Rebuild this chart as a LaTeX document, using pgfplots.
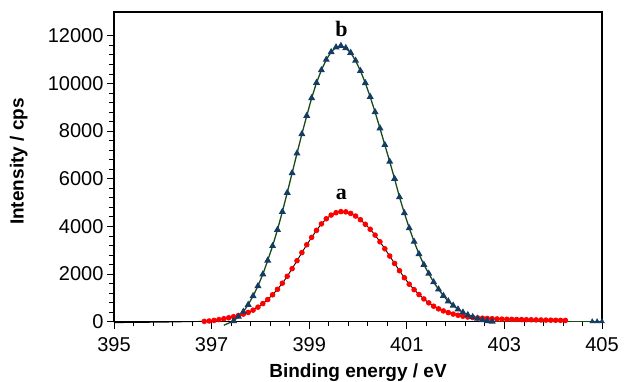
\documentclass[border=0pt]{standalone}
\usepackage{fontspec}
\setmainfont{Liberation Sans}
\newfontfamily\serifb{Liberation Serif}
\usepackage{pgfplots}
\pgfplotsset{compat=1.18}
\usepackage{pgfplotstable}

\definecolor{bblue}{RGB}{20,60,100}
\definecolor{bgreen}{RGB}{25,75,25}

% curve a (red dots, black line)
\pgfplotstableread{
x y
396.85 15
396.95 30
397.05 55
397.15 88
397.25 125
397.35 165
397.45 208
397.55 258
397.65 318
397.75 390
397.85 485
397.95 610
398.05 760
398.15 930
398.25 1130
398.35 1360
398.45 1615
398.55 1905
398.65 2225
398.75 2560
398.85 2900
398.95 3230
399.05 3540
399.15 3835
399.25 4105
399.35 4320
399.45 4475
399.55 4575
399.65 4620
399.75 4610
399.85 4545
399.95 4435
400.05 4280
400.15 4090
400.25 3880
400.35 3635
400.45 3355
400.55 3060
400.65 2755
400.75 2445
400.85 2140
400.95 1845
401.05 1575
401.15 1345
401.25 1140
401.35 955
401.45 790
401.55 650
401.65 540
401.75 452
401.85 382
401.95 320
402.05 270
402.15 230
402.25 197
402.35 175
402.45 157
402.55 145
402.65 135
402.75 125
402.85 115
402.95 108
403.05 102
403.15 97
403.25 92
403.35 88
403.45 84
403.55 80
403.65 76
403.75 72
403.85 68
403.95 64
404.05 60
404.15 56
404.25 52
}\dataa

% curve b (blue triangles, green line)
\pgfplotstableread{
x y
397.45 30
397.55 210
397.65 420
397.75 713
397.85 1078
397.95 1498
398.05 1990
398.15 2570
398.25 3180
398.35 3860
398.45 4616
398.55 5413
398.65 6240
398.75 7067
398.85 7877
398.95 8645
399.05 9387
399.15 10030
399.25 10560
399.35 11000
399.45 11320
399.55 11520
399.65 11580
399.75 11490
399.85 11290
399.95 10960
400.05 10530
400.15 10020
400.25 9440
400.35 8800
400.45 8120
400.55 7420
400.65 6720
400.75 6000
400.85 5230
400.95 4560
401.05 3930
401.15 3360
401.25 2840
401.35 2390
401.45 2020
401.55 1660
401.65 1360
401.75 1090
401.85 860
401.95 680
402.05 520
402.15 390
402.25 285
402.35 200
402.45 130
402.55 70
402.65 30
402.75 10
}\datab

\begin{document}
\begin{tikzpicture}
\begin{axis}[
  scale only axis, width=488pt, height=309.7pt,
  xmin=395, xmax=405, ymin=0, ymax=13000,
  xtick={395,397,...,405}, minor x tick num=4,
  ytick={0,2000,...,12000}, minor y tick num=4,
  tick align=outside, tick pos=left,
  major tick length=7pt, minor tick length=4.5pt,
  axis line style={line width=1.2pt},
  every tick/.style={black, line width=0.8pt},
  tick label style={font=\fontsize{20}{20}\selectfont},
  /pgf/number format/assume math mode=true,
  /pgf/number format/1000 sep={},
  scaled y ticks=false,
  xticklabel style={/pgf/number format/fixed, /pgf/number format/precision=0, yshift=-5pt},
  xlabel={Binding energy / eV}, ylabel={Intensity / cps},
  label style={font=\fontsize{19}{19}\selectfont\bfseries},
  xlabel style={at={(axis description cs:0.5,0)}, anchor=base, yshift=-56pt},
  ylabel style={at={(axis description cs:-0.195,0.517)}, anchor=center, rotate=0},
  clip=false,
]
\addplot[black, line width=0.9pt, forget plot] coordinates {(395,-40) (396,-20) (396.85,15)};
\addplot[black, line width=0.9pt, mark=*, mark size=2.3pt, mark options={red, fill=red}] table {\dataa};
\addplot[bgreen, line width=1.3pt] coordinates {(397.25,-150) (397.45,30)};
\addplot[bgreen, line width=1.3pt, mark=triangle*, mark size=2.8pt, mark options={bblue, fill=bblue}] table {\datab};
\addplot[bgreen, line width=1.3pt] coordinates {(402.75,10) (404.8,10) (405,10)};
\addplot[only marks, mark=triangle*, mark size=2.8pt, mark options={bblue, fill=bblue}] coordinates {(404.8,10) (404.9,10) (405,10)};
\node[anchor=base, font=\fontsize{22}{22}\selectfont\serifb\bfseries] at (axis cs:399.66,11990) {b};
\node[anchor=base, font=\fontsize{22}{22}\selectfont\serifb\bfseries] at (axis cs:399.66,5110) {a};
\end{axis}
\path (current axis.south west) ++(-114pt,-60.3pt) coordinate (bl);
\path (current axis.north east) ++(28pt,12pt) coordinate (tr);
\pgfresetboundingbox
\useasboundingbox (bl) rectangle (tr);
\end{tikzpicture}
\end{document}
